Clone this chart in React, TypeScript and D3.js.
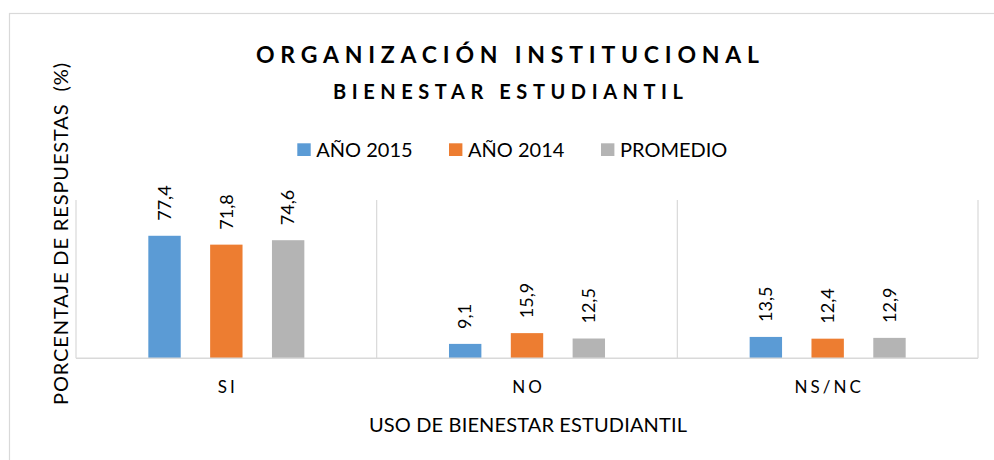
import React from "react";
import * as d3 from "d3";

const categories = ["SI", "NO", "NS/NC"];
const seriesNames = ["AÑO 2015", "AÑO 2014", "PROMEDIO"];
const values2015 = [77.4, 9.1, 13.5];
const values2014 = [71.8, 15.9, 12.4];
const valuesPromedio = [74.6, 12.5, 12.9];
const colors = ["#5B9BD5", "#ED7D31", "#B4B4B4"];
const yDomain = [0, 100];

const W = 994;
const H = 460;
const FONT = "Lato, 'Open Sans', sans-serif";

export default function App() {
  const series = [values2015, values2014, valuesPromedio];
  const plot = { left: 76, right: 978, top: 200, bottom: 358.3 };

  const x = d3.scaleBand<string>().domain(categories).range([plot.left, plot.right]).padding(0);
  const xi = d3
    .scaleBand<string>()
    .domain(seriesNames)
    .range([0, x.bandwidth()])
    .paddingInner(0.476)
    .paddingOuter(1.17);
  const y = d3.scaleLinear().domain(yDomain).range([plot.bottom, plot.top]);

  const boundaries = categories.map((c) => x(c) as number).concat([plot.right]);
  const fmt = (v: number) => v.toFixed(1).replace(".", ",");

  const legendX = [297.3, 449, 601];

  return (
    <svg
      width={W}
      height={H}
      style={{ position: "absolute", left: 0, top: 0, background: "#fff" }}
      fontFamily={FONT}
    >
      <rect x={0} y={0} width={W} height={H} fill="#fff" />
      <rect x={9.5} y={13.5} width={W + 20} height={H + 20} fill="#fff" stroke="#D9D9D9" strokeWidth={1.2} />

      {/* titles */}
      <text x={507.5} y={63} textAnchor="middle" fontSize={23} fontWeight="bold" textLength={503} lengthAdjust="spacing" fill="#000">
        ORGANIZACIÓN INSTITUCIONAL
      </text>
      <text x={508} y={99} textAnchor="middle" fontSize={20} fontWeight="bold" textLength={350} lengthAdjust="spacing" fill="#000">
        BIENESTAR ESTUDIANTIL
      </text>

      {/* legend */}
      {seriesNames.map((s, i) => (
        <g key={s}>
          <rect x={legendX[i]} y={143.3} width={13.4} height={12.7} fill={colors[i]} />
          <text x={legendX[i] + 19} y={156.5} fontSize={20} fill="#000">
            {s}
          </text>
        </g>
      ))}

      {/* grid: vertical category dividers */}
      {boundaries.map((bx, i) => (
        <line key={i} x1={bx} x2={bx} y1={plot.top} y2={plot.bottom} stroke="#D9D9D9" strokeWidth={1.2} />
      ))}

      {/* bars */}
      {categories.map((c, ci) => (
        <g key={c} transform={`translate(${x(c)},0)`}>
          {seriesNames.map((s, si) => {
            const v = series[si][ci];
            const bx = xi(s) as number;
            const bw = xi.bandwidth();
            const top = y(v);
            const cx = bx + bw / 2;
            const ly = top - 15;
            return (
              <g key={s}>
                <rect x={bx} y={top} width={bw} height={y(0) - top} fill={colors[si]} />
                <text
                  transform={`translate(${cx + 6.3},${ly}) rotate(-90)`}
                  fontSize={18}
                  fill="#000"
                  textAnchor="start"
                >
                  {fmt(v)}
                </text>
              </g>
            );
          })}
        </g>
      ))}

      {/* baseline */}
      <line x1={plot.left} x2={plot.right} y1={plot.bottom} y2={plot.bottom} stroke="#D9D9D9" strokeWidth={1.6} />

      {/* category labels */}
      {categories.map((c) => (
        <text
          key={c}
          x={(x(c) as number) + x.bandwidth() / 2 + 1.5}
          y={393.3}
          textAnchor="middle"
          fontSize={17}
          letterSpacing={3}
          fill="#000"
        >
          {c}
        </text>
      ))}

      {/* axis titles */}
      <text x={528} y={431.7} textAnchor="middle" fontSize={20} textLength={318} lengthAdjust="spacing" fill="#000">
        USO DE BIENESTAR ESTUDIANTIL
      </text>
      <text
        transform={`translate(68,234) rotate(-90)`}
        textAnchor="middle"
        fontSize={20}
        textLength={342}
        lengthAdjust="spacing"
        fill="#000"
        style={{ whiteSpace: "pre" }}
      >
        {"PORCENTAJE DE RESPUESTAS  (%)"}
      </text>
    </svg>
  );
}
